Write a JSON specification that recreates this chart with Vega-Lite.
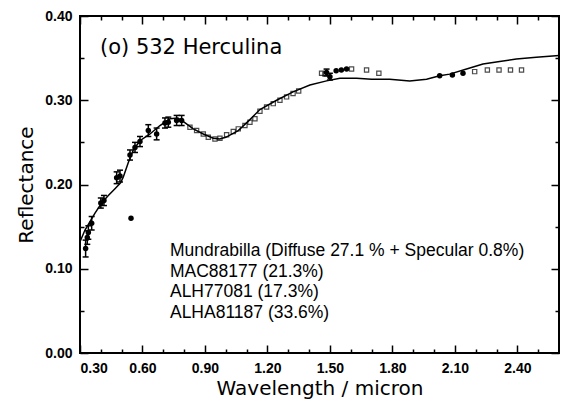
{
  "$schema": "https://vega.github.io/schema/vega-lite/v6.json",
  "width": 479,
  "height": 337,
  "autosize": "none",
  "padding": {"left": 80, "top": 16, "right": 7, "bottom": 48},
  "background": "white",
  "config": {
    "view": {"stroke": "black", "strokeWidth": 2},
    "axis": {"domain": false, "grid": false, "tickColor": "black", "tickWidth": 1.5, "ticks": true}
  },
  "data": {
    "values": [
      {"series": "model", "w": 0.300, "r": 0.132}, {"series": "model", "w": 0.324, "r": 0.146}, {"series": "model", "w": 0.348, "r": 0.156},
      {"series": "model", "w": 0.372, "r": 0.166}, {"series": "model", "w": 0.404, "r": 0.178}, {"series": "model", "w": 0.436, "r": 0.187},
      {"series": "model", "w": 0.468, "r": 0.195}, {"series": "model", "w": 0.495, "r": 0.202}, {"series": "model", "w": 0.508, "r": 0.209},
      {"series": "model", "w": 0.532, "r": 0.226}, {"series": "model", "w": 0.556, "r": 0.241}, {"series": "model", "w": 0.588, "r": 0.252},
      {"series": "model", "w": 0.636, "r": 0.260}, {"series": "model", "w": 0.684, "r": 0.270}, {"series": "model", "w": 0.732, "r": 0.278},
      {"series": "model", "w": 0.770, "r": 0.279}, {"series": "model", "w": 0.800, "r": 0.274}, {"series": "model", "w": 0.844, "r": 0.266},
      {"series": "model", "w": 0.892, "r": 0.260}, {"series": "model", "w": 0.940, "r": 0.255}, {"series": "model", "w": 0.970, "r": 0.254},
      {"series": "model", "w": 1.000, "r": 0.256}, {"series": "model", "w": 1.060, "r": 0.264}, {"series": "model", "w": 1.116, "r": 0.277},
      {"series": "model", "w": 1.164, "r": 0.289}, {"series": "model", "w": 1.244, "r": 0.300}, {"series": "model", "w": 1.323, "r": 0.310},
      {"series": "model", "w": 1.404, "r": 0.318}, {"series": "model", "w": 1.484, "r": 0.323}, {"series": "model", "w": 1.548, "r": 0.326},
      {"series": "model", "w": 1.628, "r": 0.326}, {"series": "model", "w": 1.700, "r": 0.325}, {"series": "model", "w": 1.787, "r": 0.325},
      {"series": "model", "w": 1.883, "r": 0.323}, {"series": "model", "w": 1.964, "r": 0.325}, {"series": "model", "w": 2.027, "r": 0.329},
      {"series": "model", "w": 2.075, "r": 0.331}, {"series": "model", "w": 2.156, "r": 0.337}, {"series": "model", "w": 2.235, "r": 0.343},
      {"series": "model", "w": 2.315, "r": 0.346}, {"series": "model", "w": 2.395, "r": 0.349}, {"series": "model", "w": 2.491, "r": 0.351},
      {"series": "model", "w": 2.600, "r": 0.353},
      {"series": "visible", "w": 0.327, "r": 0.124, "lo": 0.114, "hi": 0.134},
      {"series": "visible", "w": 0.335, "r": 0.137, "lo": 0.129, "hi": 0.145},
      {"series": "visible", "w": 0.340, "r": 0.143, "lo": 0.135, "hi": 0.151},
      {"series": "visible", "w": 0.356, "r": 0.154, "lo": 0.146, "hi": 0.162},
      {"series": "visible", "w": 0.400, "r": 0.178, "lo": 0.172, "hi": 0.184},
      {"series": "visible", "w": 0.415, "r": 0.181, "lo": 0.175, "hi": 0.187},
      {"series": "visible", "w": 0.476, "r": 0.208, "lo": 0.201, "hi": 0.215},
      {"series": "visible", "w": 0.492, "r": 0.210, "lo": 0.203, "hi": 0.217},
      {"series": "visible", "w": 0.540, "r": 0.235, "lo": 0.229, "hi": 0.241},
      {"series": "visible", "w": 0.564, "r": 0.244, "lo": 0.238, "hi": 0.250},
      {"series": "visible", "w": 0.588, "r": 0.251, "lo": 0.245, "hi": 0.257},
      {"series": "visible", "w": 0.628, "r": 0.264, "lo": 0.257, "hi": 0.271},
      {"series": "visible", "w": 0.668, "r": 0.260, "lo": 0.253, "hi": 0.267},
      {"series": "visible", "w": 0.708, "r": 0.273, "lo": 0.267, "hi": 0.279},
      {"series": "visible", "w": 0.724, "r": 0.274, "lo": 0.268, "hi": 0.280},
      {"series": "visible", "w": 0.764, "r": 0.276, "lo": 0.270, "hi": 0.282},
      {"series": "visible", "w": 0.788, "r": 0.276, "lo": 0.270, "hi": 0.282},
      {"series": "visible", "w": 1.484, "r": 0.333, "lo": 0.329, "hi": 0.337},
      {"series": "visible", "w": 1.500, "r": 0.328, "lo": 0.324, "hi": 0.332},
      {"series": "single", "w": 0.545, "r": 0.160},
      {"series": "single", "w": 1.530, "r": 0.335}, {"series": "single", "w": 1.555, "r": 0.336}, {"series": "single", "w": 1.580, "r": 0.337},
      {"series": "single", "w": 2.027, "r": 0.329}, {"series": "single", "w": 2.088, "r": 0.330}, {"series": "single", "w": 2.139, "r": 0.332},
      {"series": "infrared", "w": 0.828, "r": 0.268}, {"series": "infrared", "w": 0.860, "r": 0.264}, {"series": "infrared", "w": 0.892, "r": 0.260},
      {"series": "infrared", "w": 0.916, "r": 0.256}, {"series": "infrared", "w": 0.948, "r": 0.254}, {"series": "infrared", "w": 0.972, "r": 0.255},
      {"series": "infrared", "w": 1.004, "r": 0.259}, {"series": "infrared", "w": 1.036, "r": 0.263}, {"series": "infrared", "w": 1.060, "r": 0.266},
      {"series": "infrared", "w": 1.092, "r": 0.270}, {"series": "infrared", "w": 1.116, "r": 0.274}, {"series": "infrared", "w": 1.140, "r": 0.278},
      {"series": "infrared", "w": 1.164, "r": 0.287}, {"series": "infrared", "w": 1.196, "r": 0.292}, {"series": "infrared", "w": 1.228, "r": 0.296},
      {"series": "infrared", "w": 1.260, "r": 0.300}, {"series": "infrared", "w": 1.292, "r": 0.304}, {"series": "infrared", "w": 1.323, "r": 0.308},
      {"series": "infrared", "w": 1.350, "r": 0.311},
      {"series": "infrared", "w": 1.460, "r": 0.332}, {"series": "infrared", "w": 1.476, "r": 0.331}, {"series": "infrared", "w": 1.604, "r": 0.337},
      {"series": "infrared", "w": 1.676, "r": 0.336}, {"series": "infrared", "w": 1.735, "r": 0.332},
      {"series": "infrared", "w": 2.195, "r": 0.334}, {"series": "infrared", "w": 2.256, "r": 0.336}, {"series": "infrared", "w": 2.312, "r": 0.336},
      {"series": "infrared", "w": 2.367, "r": 0.336}, {"series": "infrared", "w": 2.420, "r": 0.336}
    ]
  },
  "layer": [
    {
      "transform": [{"filter": "datum.series == 'model'"}],
      "mark": {"type": "line", "color": "black", "strokeWidth": 1.5},
      "encoding": {
        "x": {
          "field": "w", "type": "quantitative",
          "scale": {"domain": [0.3, 2.6], "nice": false, "zero": false},
          "axis": {
            "orient": "bottom",
            "title": "Wavelength / micron",
            "values": [0.3, 0.4, 0.5, 0.6, 0.7, 0.8, 0.9, 1.0, 1.1, 1.2, 1.3, 1.4, 1.5, 1.6, 1.7, 1.8, 1.9, 2.0, 2.1, 2.2, 2.3, 2.4, 2.5],
            "labelExpr": "round(datum.value * 10) % 3 == 0 ? format(datum.value, '.2f') : ''",
            "tickSize": {"condition": {"test": "round(datum.value * 10) % 3 == 0", "value": -8}, "value": -4},
            "labelPadding": 16,
            "labelFont": "Liberation Sans", "labelFontSize": 14, "labelFontWeight": "bold", "labelColor": "black",
            "titleFont": "DejaVu Sans", "titleFontSize": 20, "titleFontWeight": "normal", "titleColor": "black",
            "titlePadding": 3
          }
        },
        "y": {
          "field": "r", "type": "quantitative",
          "scale": {"domain": [0, 0.4], "nice": false, "zero": false},
          "axis": {
            "orient": "left",
            "title": "Reflectance",
            "values": [0, 0.05, 0.1, 0.15, 0.2, 0.25, 0.3, 0.35, 0.4],
            "labelExpr": "round(datum.value * 100) % 10 == 0 ? format(datum.value, '.2f') : ''",
            "tickSize": {"condition": {"test": "round(datum.value * 100) % 10 == 0", "value": -8}, "value": -4},
            "labelPadding": 16,
            "labelFont": "Liberation Sans", "labelFontSize": 14, "labelFontWeight": "bold", "labelColor": "black",
            "titleFont": "DejaVu Sans", "titleFontSize": 20, "titleFontWeight": "normal", "titleColor": "black",
            "titlePadding": 8
          }
        }
      }
    },
    {
      "transform": [{"filter": "datum.series == 'infrared'"}],
      "mark": {"type": "point", "shape": "square", "filled": false, "color": "black", "strokeWidth": 1.2, "size": 18},
      "encoding": {
        "x": {
          "field": "w", "type": "quantitative",
          "scale": {"domain": [0.3, 2.6], "nice": false, "zero": false},
          "axis": {
            "orient": "top", "title": null, "labels": false,
            "values": [0.3, 0.4, 0.5, 0.6, 0.7, 0.8, 0.9, 1.0, 1.1, 1.2, 1.3, 1.4, 1.5, 1.6, 1.7, 1.8, 1.9, 2.0, 2.1, 2.2, 2.3, 2.4, 2.5],
            "tickSize": {"condition": {"test": "round(datum.value * 10) % 3 == 0", "value": -8}, "value": -4}
          }
        },
        "y": {
          "field": "r", "type": "quantitative",
          "scale": {"domain": [0, 0.4], "nice": false, "zero": false},
          "axis": {
            "orient": "right", "title": null, "labels": false,
            "values": [0, 0.05, 0.1, 0.15, 0.2, 0.25, 0.3, 0.35, 0.4],
            "tickSize": {"condition": {"test": "round(datum.value * 100) % 10 == 0", "value": -8}, "value": -4}
          }
        }
      }
    },
    {
      "transform": [{"filter": "datum.series == 'visible'"}],
      "mark": {"type": "rule", "color": "black", "strokeWidth": 1.5},
      "encoding": {
        "x": {"field": "w", "type": "quantitative", "scale": {"domain": [0.3, 2.6], "nice": false, "zero": false}, "axis": null},
        "y": {"field": "lo", "type": "quantitative", "scale": {"domain": [0, 0.4], "nice": false, "zero": false}, "axis": null},
        "y2": {"field": "hi"}
      }
    },
    {
      "transform": [{"filter": "datum.series == 'visible'"}],
      "mark": {"type": "point", "shape": "M -1 0 L 1 0", "filled": false, "color": "black", "opacity": 1, "strokeWidth": 1.5, "size": 36},
      "encoding": {
        "x": {"field": "w", "type": "quantitative", "scale": {"domain": [0.3, 2.6], "nice": false, "zero": false}, "axis": null},
        "y": {"field": "lo", "type": "quantitative", "scale": {"domain": [0, 0.4], "nice": false, "zero": false}, "axis": null}
      }
    },
    {
      "transform": [{"filter": "datum.series == 'visible'"}],
      "mark": {"type": "point", "shape": "M -1 0 L 1 0", "filled": false, "color": "black", "opacity": 1, "strokeWidth": 1.5, "size": 36},
      "encoding": {
        "x": {"field": "w", "type": "quantitative", "scale": {"domain": [0.3, 2.6], "nice": false, "zero": false}, "axis": null},
        "y": {"field": "hi", "type": "quantitative", "scale": {"domain": [0, 0.4], "nice": false, "zero": false}, "axis": null}
      }
    },
    {
      "transform": [{"filter": "datum.series == 'visible' || datum.series == 'single'"}],
      "mark": {"type": "point", "shape": "circle", "filled": true, "color": "black", "opacity": 1, "size": 30},
      "encoding": {
        "x": {"field": "w", "type": "quantitative", "scale": {"domain": [0.3, 2.6], "nice": false, "zero": false}, "axis": null},
        "y": {"field": "r", "type": "quantitative", "scale": {"domain": [0, 0.4], "nice": false, "zero": false}, "axis": null}
      }
    },
    {
      "data": {"values": [{}]},
      "mark": {"type": "text", "text": "(o) 532 Herculina", "font": "DejaVu Sans", "fontSize": 21, "align": "left", "baseline": "alphabetic", "color": "black"},
      "encoding": {
        "x": {"datum": 0.396, "type": "quantitative", "scale": {"domain": [0.3, 2.6], "nice": false, "zero": false}, "axis": null},
        "y": {"datum": 0.355, "type": "quantitative", "scale": {"domain": [0, 0.4], "nice": false, "zero": false}, "axis": null}
      }
    },
    {
      "data": {"values": [{}]},
      "mark": {
        "type": "text",
        "text": ["Mundrabilla (Diffuse 27.1 % + Specular 0.8%)", "MAC88177 (21.3%)", "ALH77081 (17.3%)", "ALHA81187 (33.6%)"],
        "font": "Liberation Sans", "fontSize": 17.5, "lineHeight": 20.6,
        "align": "left", "baseline": "middle", "color": "black"
      },
      "encoding": {
        "x": {"datum": 0.732, "type": "quantitative", "scale": {"domain": [0.3, 2.6], "nice": false, "zero": false}, "axis": null},
        "y": {"datum": 0.121, "type": "quantitative", "scale": {"domain": [0, 0.4], "nice": false, "zero": false}, "axis": null}
      }
    }
  ],
  "resolve": {"axis": {"x": "independent", "y": "independent"}}
}
